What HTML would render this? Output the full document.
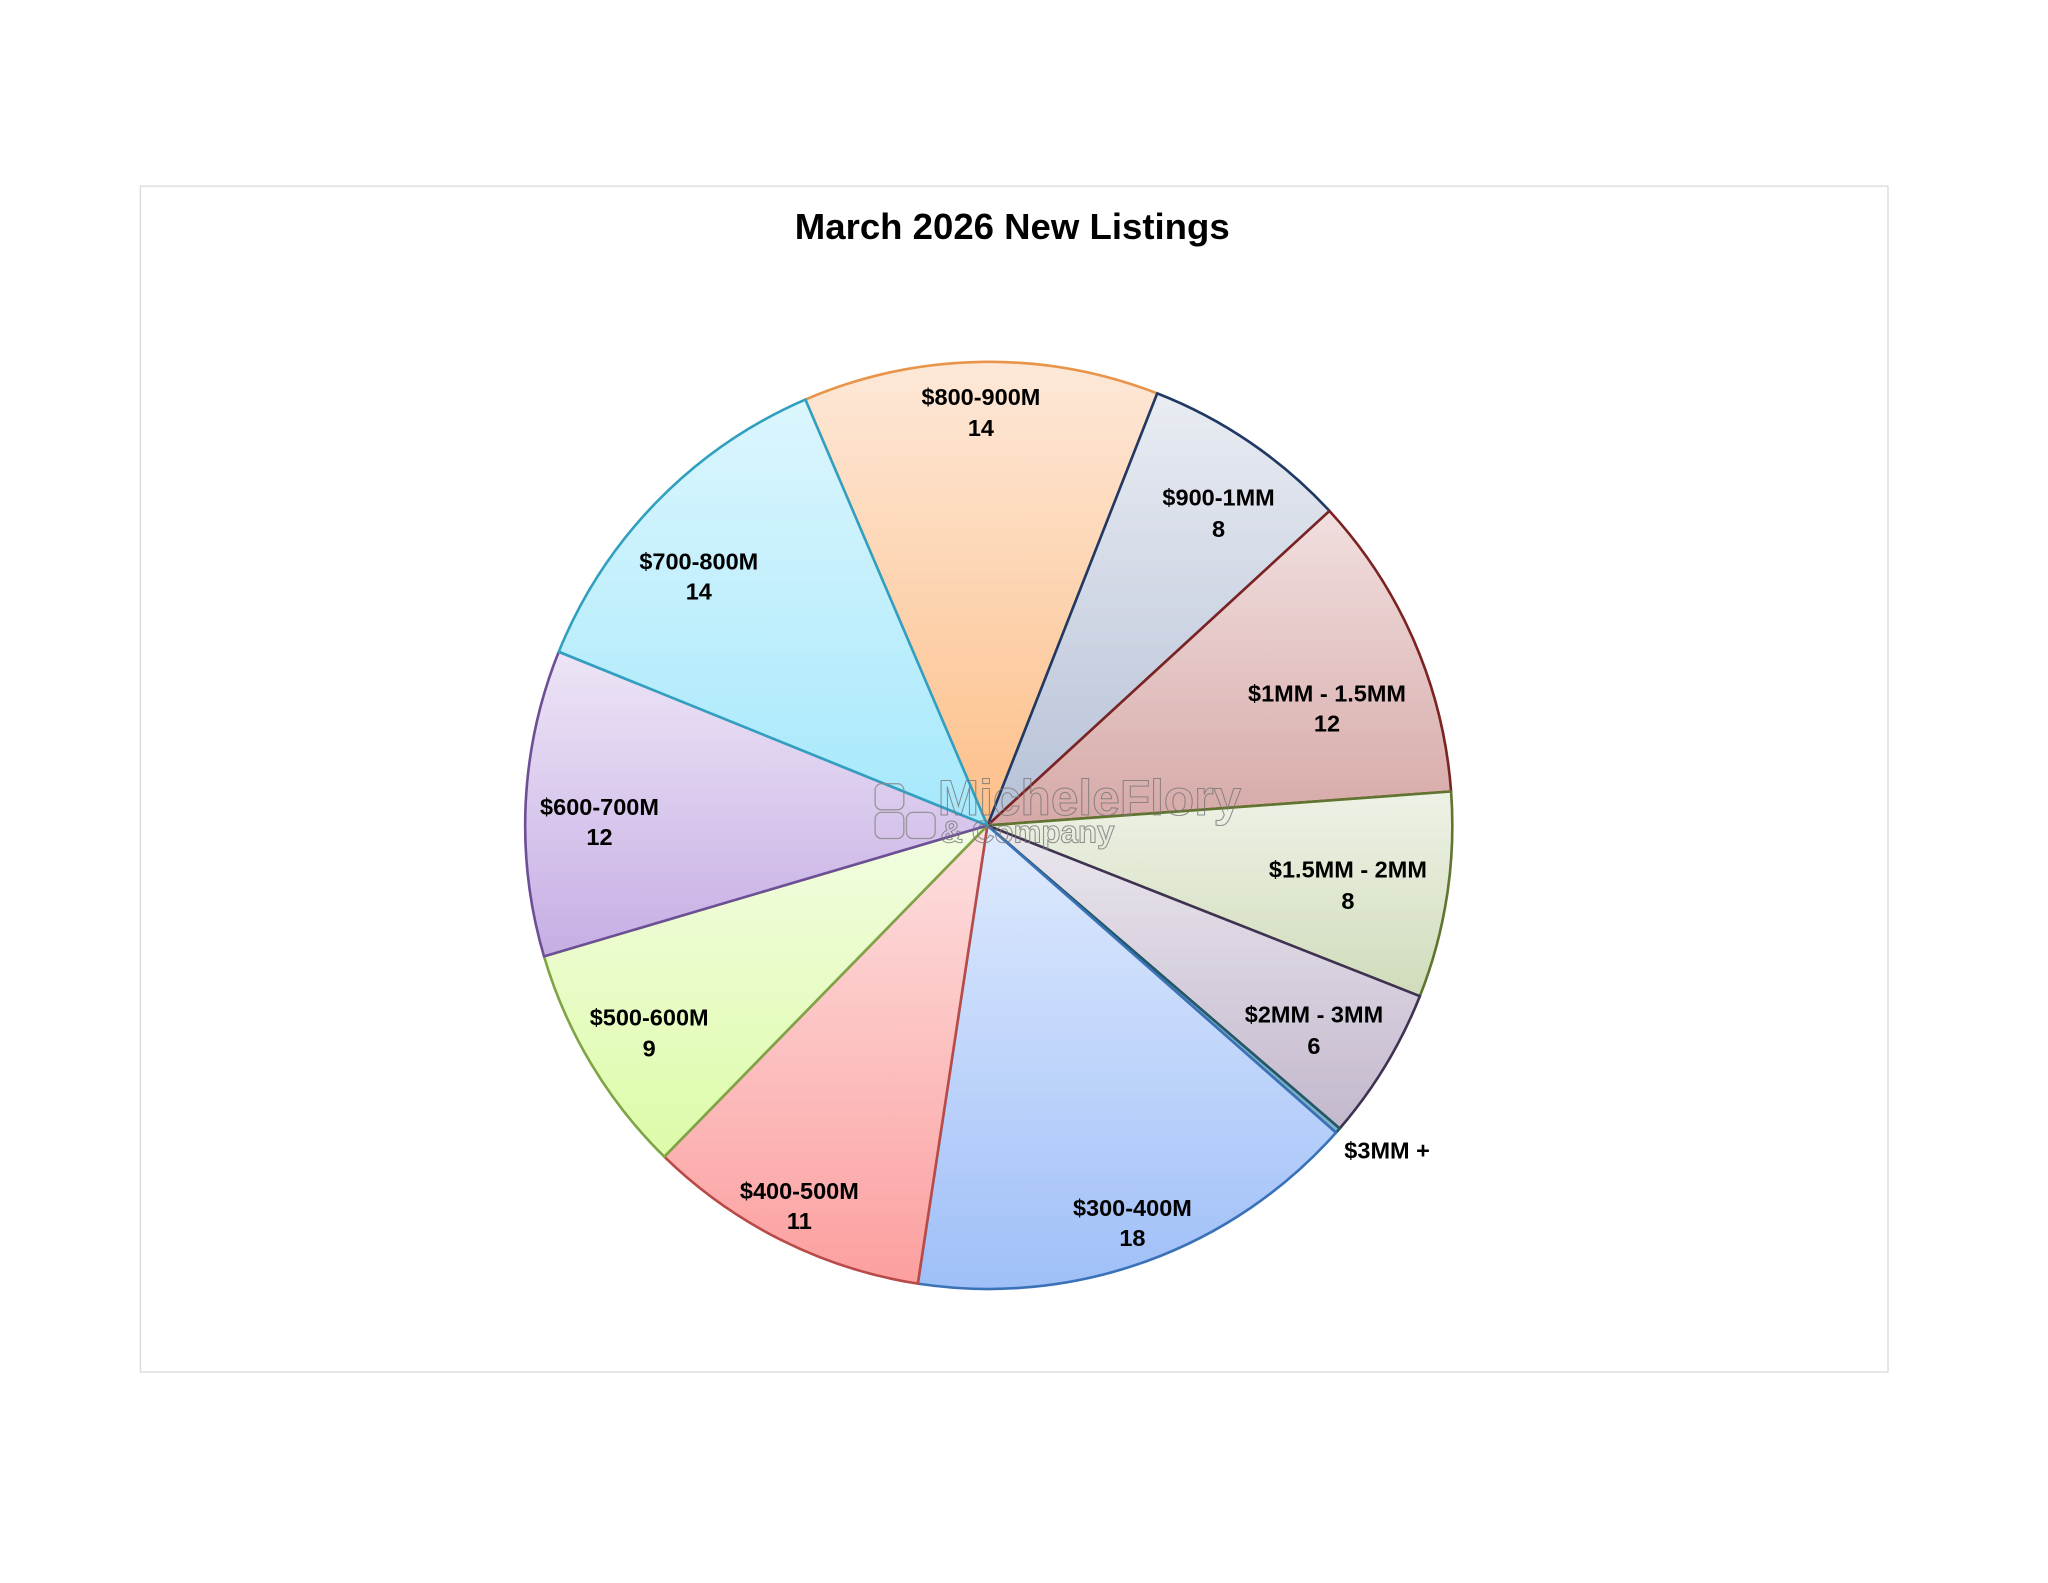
<!DOCTYPE html>
<html><head><meta charset="utf-8"><style>
html,body{margin:0;padding:0;background:#fff;}
svg{display:block;}
text{font-family:"Liberation Sans",Arial,sans-serif;font-weight:bold;}
</style></head><body>
<svg width="2048" height="1583" viewBox="0 0 1568 1212" xmlns="http://www.w3.org/2000/svg">
<defs>
<linearGradient id="g1" x1="0" y1="0" x2="0" y2="1"><stop offset="0" stop-color="#fde8d8"/><stop offset="1" stop-color="#fdbf88"/></linearGradient>
<linearGradient id="g2" x1="0" y1="0" x2="0" y2="1"><stop offset="0" stop-color="#e9ecf2"/><stop offset="1" stop-color="#b6c1d7"/></linearGradient>
<linearGradient id="g3" x1="0" y1="0" x2="0" y2="1"><stop offset="0" stop-color="#f1dfdf"/><stop offset="1" stop-color="#d6a9a7"/></linearGradient>
<linearGradient id="g4" x1="0" y1="0" x2="0" y2="1"><stop offset="0" stop-color="#eef2e6"/><stop offset="1" stop-color="#d0dcbb"/></linearGradient>
<linearGradient id="g5" x1="0" y1="0" x2="0" y2="1"><stop offset="0" stop-color="#ebe7ee"/><stop offset="1" stop-color="#c3b8cd"/></linearGradient>
<linearGradient id="g7" x1="0" y1="0" x2="0" y2="1"><stop offset="0" stop-color="#e0ebfd"/><stop offset="1" stop-color="#9fbff8"/></linearGradient>
<linearGradient id="g8" x1="0" y1="0" x2="0" y2="1"><stop offset="0" stop-color="#fde0e0"/><stop offset="1" stop-color="#fc9f9f"/></linearGradient>
<linearGradient id="g9" x1="0" y1="0" x2="0" y2="1"><stop offset="0" stop-color="#f3fde2"/><stop offset="1" stop-color="#dcfba8"/></linearGradient>
<linearGradient id="g10" x1="0" y1="0" x2="0" y2="1"><stop offset="0" stop-color="#ede5f6"/><stop offset="1" stop-color="#c6aee4"/></linearGradient>
<linearGradient id="g11" x1="0" y1="0" x2="0" y2="1"><stop offset="0" stop-color="#dcf6fd"/><stop offset="1" stop-color="#a5e8fc"/></linearGradient>
</defs>
<rect x="107.5" y="142.5" width="1338" height="908" fill="#fff" stroke="#d9d9d9" stroke-width="1"/>
<text x="775" y="183" font-size="28" text-anchor="middle" fill="#000">March 2026 New Listings</text>
<g stroke-width="2" stroke-linejoin="round">
<path d="M756,632 L616.6,305.9 A356,356 0 0 1 886.0,301.2 Z" fill="url(#g1)" stroke="#e8944a"/>
<path d="M756,632 L886.0,301.2 A356,356 0 0 1 1017.9,391.2 Z" fill="url(#g2)" stroke="#1f3864"/>
<path d="M756,632 L1017.9,391.2 A356,356 0 0 1 1111.0,606.0 Z" fill="url(#g3)" stroke="#7b2323"/>
<path d="M756,632 L1111.0,606.0 A356,356 0 0 1 1087.1,762.7 Z" fill="url(#g4)" stroke="#5f7530"/>
<path d="M756,632 L1087.1,762.7 A356,356 0 0 1 1025.7,864.0 Z" fill="url(#g5)" stroke="#3f3151"/>
<path d="M756,632 L1025.7,864.0 A356,356 0 0 1 1022.9,867.2 Z" fill="#7fb0c8" stroke="#215968"/>
<path d="M756,632 L1022.9,867.2 A356,356 0 0 1 702.7,982.8 Z" fill="url(#g7)" stroke="#3a72b8"/>
<path d="M756,632 L702.7,982.8 A356,356 0 0 1 508.6,885.6 Z" fill="url(#g8)" stroke="#b84a48"/>
<path d="M756,632 L508.6,885.6 A356,356 0 0 1 416.5,732.2 Z" fill="url(#g9)" stroke="#7ea446"/>
<path d="M756,632 L416.5,732.2 A356,356 0 0 1 427.8,499.0 Z" fill="url(#g10)" stroke="#6d4f96"/>
<path d="M756,632 L427.8,499.0 A356,356 0 0 1 616.6,305.9 Z" fill="url(#g11)" stroke="#31a0c0"/>
</g>
<g fill="none" stroke="#888" stroke-width="1" opacity="0.8">
<text x="718" y="624" font-size="38" font-weight="normal" fill="none" stroke="#777" stroke-width="0.8">MicheleFlory</text>
<text x="720" y="645" font-size="24" font-weight="normal" fill="none" stroke="#777" stroke-width="0.8">&amp; Company</text>
<rect x="670" y="600" width="22" height="20" rx="5"/><rect x="670" y="622" width="22" height="20" rx="5"/><rect x="694" y="622" width="22" height="20" rx="5"/>
</g>
<g font-size="18" fill="#000" text-anchor="middle">
<text x="751" y="310">$800-900M</text><text x="751" y="334">14</text>
<text x="933" y="387">$900-1MM</text><text x="933" y="411">8</text>
<text x="1016" y="537">$1MM - 1.5MM</text><text x="1016" y="560">12</text>
<text x="1032" y="672">$1.5MM - 2MM</text><text x="1032" y="696">8</text>
<text x="1006" y="783">$2MM - 3MM</text><text x="1006" y="807">6</text>
<text x="1062" y="887">$3MM +</text>
<text x="867" y="931">$300-400M</text><text x="867" y="954">18</text>
<text x="612" y="918">$400-500M</text><text x="612" y="941">11</text>
<text x="497" y="785">$500-600M</text><text x="497" y="809">9</text>
<text x="459" y="624">$600-700M</text><text x="459" y="647">12</text>
<text x="535" y="436">$700-800M</text><text x="535" y="459">14</text>
</g>
</svg>
</body></html>
